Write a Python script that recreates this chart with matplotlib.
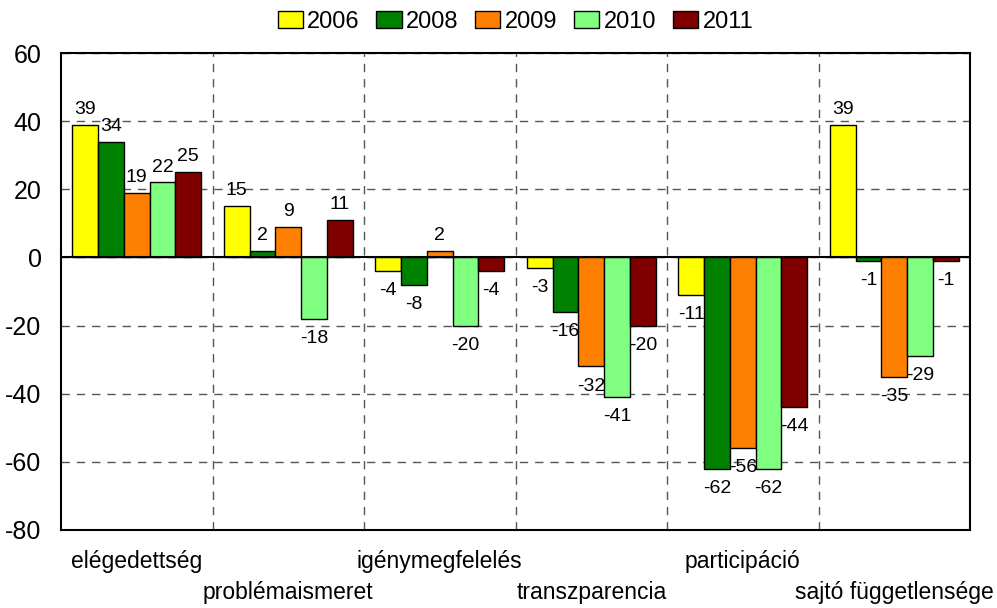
import numpy as np
import matplotlib
matplotlib.use('Agg')
import matplotlib.pyplot as plt
from matplotlib.ticker import MultipleLocator, FixedLocator

plt.rcParams['font.family'] = ['Liberation Sans', 'DejaVu Sans']
plt.rcParams['axes.unicode_minus'] = False

# data
categories = ['elégedettség', 'problémaismeret', 'igénymegfelelés',
              'transzparencia', 'participáció', 'sajtó függetlensége']
years = ['2006', '2008', '2009', '2010', '2011']
v2006 = [39, 15, -4, -3, -11, 39]
v2008 = [34, 2, -8, -16, -62, -1]
v2009 = [19, 9, 2, -32, -56, -35]
v2010 = [22, -18, -20, -41, -62, -29]
v2011 = [25, 11, -4, -20, -44, -1]
series = [v2006, v2008, v2009, v2010, v2011]
colors = ['#FFFF00', '#008000', '#FF8000', '#80FF80', '#800000']

fig = plt.figure(figsize=(9.97, 6.08), dpi=100)
ax = fig.add_axes([0.0612, 0.1283, 0.9118, 0.7845])

x = np.arange(len(categories))
w = 0.17
for i, (vals, col, yr) in enumerate(zip(series, colors, years)):
    pos = x + (i - 2) * w
    ax.bar(pos, vals, width=w, color=col, edgecolor='black', linewidth=1,
           label=yr, zorder=3)
    for px, v in zip(pos, vals):
        if v >= 0:
            ax.annotate(str(v), (px, v), xytext=(0, 5), textcoords='offset points',
                        ha='center', va='bottom', fontsize=14, zorder=4)
        else:
            ax.annotate(str(v), (px, v), xytext=(0, -8), textcoords='offset points',
                        ha='center', va='top', fontsize=14, zorder=4)

ax.set_xlim(-0.5, len(categories) - 0.5)
ax.set_ylim(-80, 60)
ax.yaxis.set_major_locator(MultipleLocator(20))
ax.grid(axis='y', color='#555555', linestyle=(0, (6, 5)), linewidth=1, zorder=1)
ax.xaxis.set_minor_locator(FixedLocator(x[:-1] + 0.5))
ax.grid(axis='x', which='minor', color='#555555', linestyle=(0, (6, 5)),
        linewidth=1, zorder=1)
ax.axhline(0, color='black', linewidth=1.5, zorder=3)

ax.set_xticks([])
ax.tick_params(axis='x', which='both', length=0)
ax.tick_params(axis='y', length=0, pad=14, labelsize=18)

for s in ax.spines.values():
    s.set_color('black')
    s.set_linewidth(1.5)

trans = ax.get_xaxis_transform()
for i, c in enumerate(categories):
    yy = -0.067 if i % 2 == 0 else -0.132
    ax.text(i, yy, c, transform=trans, ha='center', va='center', fontsize=16.5)

fig.legend(loc='center', bbox_to_anchor=(0.517, 0.964), ncol=5, frameon=False,
           fontsize=17, handlelength=1.06, handleheight=0.75, handletextpad=0.2,
           columnspacing=0.7)

fig.savefig('out.png', dpi=100)
